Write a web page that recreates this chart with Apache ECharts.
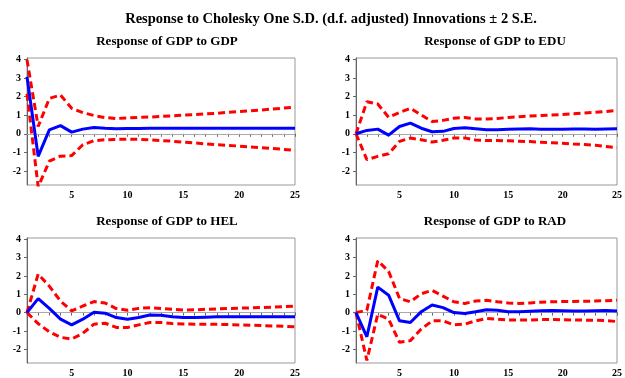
<!DOCTYPE html>
<html>
<head>
<meta charset="utf-8">
<script src="https://cdn.jsdelivr.net/npm/echarts@6/dist/echarts.min.js"></script>
<style>
  html, body { margin: 0; padding: 0; background: #fff; }
  #irf { width: 625px; height: 378px; }
</style>
</head>
<body>
<div id="irf"></div>
<script>
// periods on the x axis
var periods = [1, 2, 3, 4, 5, 6, 7, 8, 9, 10, 11, 12, 13, 14, 15, 16, 17, 18, 19, 20, 21, 22, 23, 24, 25];
var yTicks = [-2, -1, 0, 1, 2, 3, 4];

// Response of GDP to GDP
var gdpGdp   = [3.06, -1.21, 0.21, 0.44, 0.09, 0.25, 0.34, 0.30, 0.27, 0.28, 0.29, 0.30, 0.30, 0.30, 0.30, 0.30, 0.30, 0.30, 0.30, 0.30, 0.30, 0.30, 0.30, 0.30, 0.30];
var gdpGdpHi = [3.98, 0.39, 1.90, 2.08, 1.37, 1.14, 0.98, 0.87, 0.82, 0.85, 0.88, 0.90, 0.93, 0.96, 1.00, 1.03, 1.07, 1.10, 1.15, 1.19, 1.23, 1.28, 1.33, 1.38, 1.44];
var gdpGdpLo = [2.15, -2.85, -1.47, -1.20, -1.17, -0.59, -0.37, -0.32, -0.30, -0.29, -0.30, -0.32, -0.36, -0.40, -0.45, -0.49, -0.54, -0.58, -0.62, -0.66, -0.71, -0.75, -0.79, -0.84, -0.89];

// Response of GDP to EDU
var gdpEdu   = [0, 0.18, 0.25, -0.07, 0.39, 0.57, 0.30, 0.11, 0.13, 0.28, 0.32, 0.27, 0.22, 0.22, 0.24, 0.26, 0.27, 0.25, 0.24, 0.25, 0.26, 0.26, 0.25, 0.26, 0.27];
var gdpEduHi = [0, 1.72, 1.60, 0.89, 1.14, 1.37, 1.01, 0.66, 0.72, 0.84, 0.88, 0.80, 0.79, 0.82, 0.88, 0.92, 0.95, 0.98, 1.01, 1.04, 1.08, 1.12, 1.16, 1.20, 1.25];
var gdpEduLo = [0, -1.39, -1.21, -1.07, -0.41, -0.23, -0.32, -0.44, -0.35, -0.23, -0.22, -0.33, -0.36, -0.36, -0.38, -0.40, -0.42, -0.45, -0.48, -0.51, -0.55, -0.58, -0.62, -0.68, -0.74];

// Response of GDP to HEL
var gdpHel   = [0, 0.76, 0.23, -0.36, -0.67, -0.36, 0.02, -0.03, -0.27, -0.36, -0.27, -0.13, -0.14, -0.23, -0.27, -0.27, -0.25, -0.23, -0.22, -0.22, -0.22, -0.22, -0.22, -0.22, -0.22];
var gdpHelHi = [0, 2.10, 1.44, 0.63, 0.09, 0.36, 0.60, 0.52, 0.22, 0.13, 0.23, 0.27, 0.23, 0.18, 0.14, 0.15, 0.18, 0.20, 0.22, 0.24, 0.26, 0.28, 0.30, 0.32, 0.36];
var gdpHelLo = [0, -0.60, -1.05, -1.35, -1.44, -1.13, -0.63, -0.58, -0.81, -0.81, -0.67, -0.54, -0.54, -0.60, -0.62, -0.63, -0.63, -0.64, -0.65, -0.67, -0.69, -0.71, -0.73, -0.75, -0.77];

// Response of GDP to RAD
var gdpRad   = [0, -1.32, 1.39, 0.95, -0.45, -0.54, 0.05, 0.41, 0.27, 0.00, -0.05, 0.05, 0.16, 0.13, 0.05, 0.04, 0.07, 0.10, 0.11, 0.10, 0.09, 0.09, 0.10, 0.11, 0.09];
var gdpRadHi = [0, 0.13, 2.83, 2.25, 0.77, 0.59, 1.03, 1.21, 0.90, 0.59, 0.50, 0.63, 0.67, 0.59, 0.52, 0.50, 0.53, 0.57, 0.59, 0.60, 0.61, 0.62, 0.63, 0.65, 0.68];
var gdpRadLo = [0, -2.61, -0.09, -0.36, -1.62, -1.53, -0.90, -0.45, -0.45, -0.67, -0.63, -0.45, -0.32, -0.36, -0.41, -0.41, -0.40, -0.38, -0.38, -0.39, -0.40, -0.41, -0.42, -0.43, -0.49];

var panelTitles = ['Response of GDP to GDP', 'Response of GDP to EDU', 'Response of GDP to HEL', 'Response of GDP to RAD'];

(function() {
    var chart = echarts.init(document.getElementById('irf'));
    var serif = '"Liberation Serif", "Times New Roman", serif';

    var panels = [
        { mid: gdpGdp, hi: gdpGdpHi, lo: gdpGdpLo },
        { mid: gdpEdu, hi: gdpEduHi, lo: gdpEduLo },
        { mid: gdpHel, hi: gdpHelHi, lo: gdpHelLo },
        { mid: gdpRad, hi: gdpRadHi, lo: gdpRadLo }
    ];
    var grids = [
        { left: 27, right: 330, top: 58, height: 127 },
        { left: 356, right: 2, top: 58, height: 127 },
        { left: 27, right: 330, top: 238, height: 127 },
        { left: 356, right: 2, top: 238, height: 127 }
    ];
    var titleCenters = [[162, 30], [490, 30], [162, 210], [490, 210]];

    var titles = [{
        text: 'Response to Cholesky One S.D. (d.f. adjusted) Innovations \u00b1 2 S.E.',
        left: 326,
        top: 7,
        textAlign: 'center',
        textStyle: { fontFamily: serif, fontSize: 14.5, fontWeight: 'bold', color: '#000' }
    }];
    var xAxes = [], yAxes = [], series = [];

    panels.forEach(function(p, i) {
        grids[i].show = true;
        grids[i].borderColor = '#999';
        grids[i].borderWidth = 1;
        titles.push({
            text: panelTitles[i],
            left: titleCenters[i][0],
            top: titleCenters[i][1],
            textAlign: 'center',
            textStyle: { fontFamily: serif, fontSize: 13, fontWeight: 'bold', color: '#000' }
        });
        xAxes.push({
            type: 'category',
            gridIndex: i,
            data: periods,
            boundaryGap: false,
            axisLine: { lineStyle: { color: '#666' } },
            axisTick: { length: 3, interval: 0, lineStyle: { color: '#666' } },
            axisLabel: {
                interval: function(idx, val) { return Number(val) % 5 === 0; },
                margin: 5,
                fontFamily: serif, fontSize: 10, fontWeight: 'bold', color: '#000'
            },
            splitLine: { show: false }
        });
        yAxes.push({
            type: 'value',
            gridIndex: i,
            min: -2.75,
            max: 4.07,
            axisLine: { show: true, lineStyle: { color: '#666' } },
            axisTick: { show: true, length: 3, customValues: yTicks, lineStyle: { color: '#666' } },
            axisLabel: {
                customValues: yTicks,
                margin: 6,
                fontFamily: serif, fontSize: 10, fontWeight: 'bold', color: '#000'
            },
            splitLine: { show: false }
        });
        series.push({
            type: 'line', xAxisIndex: i, yAxisIndex: i,
            data: p.hi, symbol: 'none',
            lineStyle: { color: '#ff0000', width: 3, type: [7, 4] }
        });
        series.push({
            type: 'line', xAxisIndex: i, yAxisIndex: i,
            data: p.lo, symbol: 'none',
            lineStyle: { color: '#ff0000', width: 3, type: [7, 4] }
        });
        series.push({
            type: 'line', xAxisIndex: i, yAxisIndex: i,
            data: p.mid, symbol: 'none', z: 3,
            lineStyle: { color: '#0000ff', width: 3 },
            markLine: {
                silent: true,
                symbol: 'none',
                label: { show: false },
                lineStyle: { color: '#aaa', width: 1, type: 'solid' },
                data: [{ yAxis: 0 }],
                z: 1
            }
        });
    });

    var option = {
        backgroundColor: '#fff',
        animation: false,
        title: titles,
        grid: grids,
        xAxis: xAxes,
        yAxis: yAxes,
        series: series
    };
    chart.setOption(option);
})();
</script>
</body>
</html>
